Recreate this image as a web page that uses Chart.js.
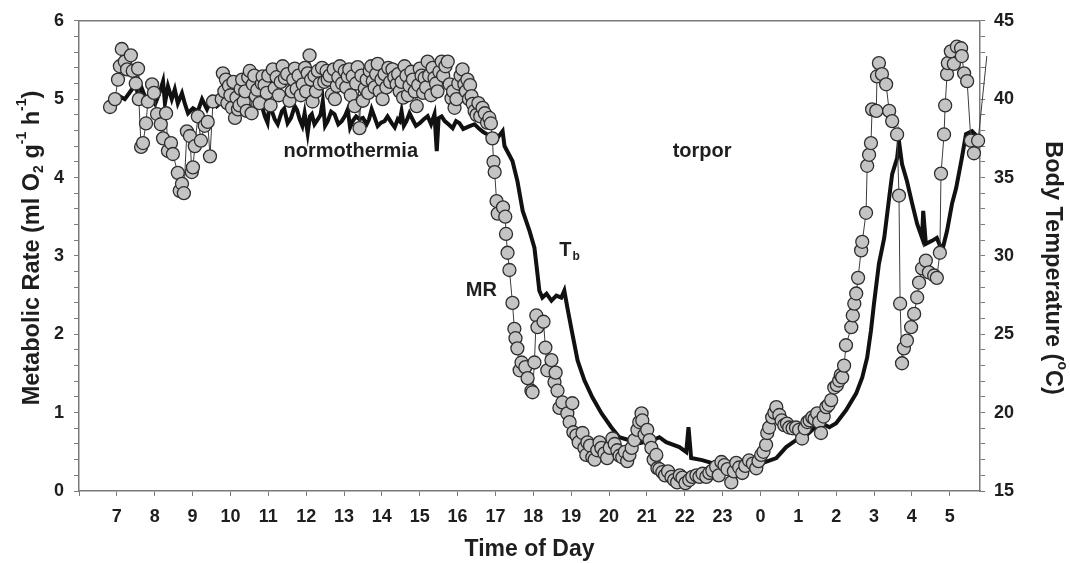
<!DOCTYPE html>
<html lang="en">
<head>
  <meta charset="UTF-8">
  <title>Metabolic rate and body temperature</title>
  <script src="https://cdn.jsdelivr.net/npm/chart.js"></script>
  <style>
    html, body { margin: 0; padding: 0; background: #fff; }
  </style>
</head>
<body>
  <canvas id="mrChart" width="1070" height="563"></canvas>
  <script>
    // time in hours from the first midnight (24 = 0:00 next day)
    // readings are grouped by run of the picture, sorted by time below
    const mrTime = [
      6.82, 6.95, 7.03, 7.08, 7.13, 7.21, 7.27, 7.37, 7.42, 7.50, 7.56, 7.58, 7.64, 7.69, 7.77, 7.82,
      7.93, 7.98, 8.06, 8.16, 8.22, 8.30, 8.35, 8.43, 8.48, 8.61, 8.66, 8.72, 8.77, 8.85, 8.93, 8.98,
      9.01, 9.06, 9.14, 9.22, 9.32, 9.40, 9.46, 9.54, 9.77, 9.80, 9.88, 9.96, 10.04, 10.12, 10.20, 10.27,
      10.35, 10.51, 10.56, 10.59, 10.67, 10.83, 10.85, 10.96, 11.12, 11.17, 11.38, 11.44, 11.62, 11.70,
      11.75, 11.91, 12.04, 12.09, 12.17, 12.31, 12.54, 12.57, 12.68, 12.81, 12.89, 13.02, 13.10, 13.23,
      13.28, 13.36, 13.41, 13.55, 13.68, 13.76, 13.89, 13.94, 14.07, 14.28, 14.39, 14.47, 14.60, 14.73,
      14.87, 14.92, 15.00, 15.13, 15.21, 15.39, 15.47, 15.58, 15.74, 15.79, 15.84, 15.92, 15.97, 16.13,
      16.18, 16.26, 16.37, 16.40, 16.45, 16.66, 16.84, 16.88, 16.92, 16.95, 16.98, 17.03, 17.06, 17.20,
      17.26, 17.28, 17.32, 17.37, 17.45, 17.50, 17.53, 17.58, 17.64, 17.69, 17.79, 17.85, 17.95, 17.98,
      18.03, 18.08, 18.11, 18.27, 18.32, 18.37, 18.48, 18.56, 18.59, 18.64, 18.69, 18.77, 18.90, 18.96,
      19.03, 19.06, 19.14, 19.30, 19.40, 19.43, 19.56, 19.69, 19.75, 19.88, 20.09, 20.22, 20.35, 20.54,
      20.67, 20.75, 20.86, 20.88, 21.01, 21.07, 21.25, 21.28, 21.41, 21.65, 21.80, 21.94, 22.12, 22.31,
      22.39, 22.57, 22.65, 22.83, 22.97, 23.23, 23.36, 23.52, 23.70, 23.89, 24.02, 24.15, 24.18, 24.23,
      24.31, 24.42, 24.50, 24.63, 24.76, 24.94, 25.10, 25.24, 25.37, 25.50, 25.60, 25.74, 25.87, 25.95,
      26.08, 26.16, 26.21, 26.26, 26.40, 26.44, 26.48, 26.53, 26.58, 26.66, 26.69, 26.79, 26.82, 26.87,
      26.92, 26.95, 27.06, 27.08, 27.13, 27.21, 27.32, 27.40, 27.48, 27.61, 27.66, 27.69, 27.74, 27.79,
      27.87, 27.98, 28.06, 28.14, 28.19, 28.27, 28.37, 28.45, 28.59, 28.66, 28.74, 28.77, 28.85, 28.88,
      28.93, 28.95, 29.03, 29.11, 29.19, 29.30, 29.32, 29.38, 29.46, 29.56, 29.64, 29.75, 29.98,
      // denser readings through the normothermic band
      9.84, 9.92, 10.00, 10.08, 10.16, 10.24, 10.31, 10.39, 10.43, 10.47, 10.63, 10.71, 10.77, 10.90,
      11.00, 11.06, 11.22, 11.28, 11.33, 11.50, 11.56, 11.66, 11.80, 11.86, 11.97, 12.00, 12.13, 12.22,
      12.26, 12.36, 12.42, 12.48, 12.62, 12.73, 12.76, 12.85, 12.95, 13.06, 13.14, 13.18, 13.32, 13.46,
      13.50, 13.60, 13.64, 13.72, 13.81, 13.85, 13.99, 14.02, 14.12, 14.17, 14.22, 14.33, 14.43, 14.52,
      14.56, 14.65, 14.69, 14.78, 14.82, 14.96, 15.05, 15.09, 15.17, 15.25, 15.30, 15.34, 15.43, 15.52,
      15.62, 15.68, 15.88, 16.02, 16.08, 16.22, 16.30, 16.33, 16.50, 16.55, 16.60, 16.72, 16.78,
      // denser readings through the torpor bottom and early rewarming
      19.20, 19.35, 19.50, 19.62, 19.80, 19.95, 20.02, 20.15, 20.28, 20.42, 20.48, 20.60, 20.80, 20.94,
      21.12, 21.18, 21.33, 21.48, 21.56, 21.72, 21.87, 22.02, 22.20, 22.47, 22.73, 22.90, 23.05, 23.13,
      23.30, 23.44, 23.60, 23.80, 23.95, 24.08, 24.37, 24.56, 24.70, 24.85, 25.02, 25.17, 25.30, 25.43,
      25.55, 25.67, 25.80, 26.02, 26.12
    ];
    const mrValue = [
      4.90, 5.00, 5.25, 5.42, 5.64, 5.48, 5.38, 5.56, 5.36, 5.20, 5.39, 5.00, 4.39, 4.44, 4.69, 4.97,
      5.19, 5.08, 4.81, 4.68, 4.50, 4.82, 4.34, 4.44, 4.30, 4.06, 3.83, 3.92, 3.80, 4.59, 4.53, 4.07,
      4.13, 4.40, 4.78, 4.47, 4.66, 4.71, 4.27, 4.97, 5.00, 5.33, 5.25, 5.17, 4.89, 4.76, 4.87, 5.13,
      4.97, 5.36, 4.82, 5.19, 5.04, 5.20, 5.29, 5.08, 5.38, 5.14, 5.42, 5.27, 5.10, 5.39,
      5.13, 5.19, 5.33, 5.56, 4.97, 5.36, 5.36, 5.25, 5.06, 5.17, 5.42, 5.36, 5.29, 5.29,
      4.91, 5.41, 4.63, 5.14, 5.36, 5.23, 5.45, 5.10, 5.32, 5.38, 5.19, 5.10, 5.42, 5.17,
      5.10, 4.91, 5.39, 5.27, 5.48, 5.27, 5.10, 5.48, 5.48, 5.19, 5.01, 4.89, 5.00, 5.38,
      5.19, 5.25, 5.04, 4.94, 4.85, 4.89, 4.76, 4.69, 4.50, 4.20, 4.07, 3.70, 3.54, 3.62,
      3.50, 3.28, 3.04, 2.82, 2.40, 2.07, 1.95, 1.82, 1.54, 1.64, 1.58, 1.44, 1.28, 1.26,
      1.64, 2.24, 2.09, 2.16, 1.83, 1.54, 1.67, 1.39, 1.51, 1.28, 1.06, 1.13, 0.99, 0.88,
      1.12, 0.75, 0.71, 0.74, 0.46, 0.62, 0.43, 0.52, 0.62, 0.48, 0.67, 0.52, 0.43, 0.46,
      0.65, 0.78, 0.99, 0.90, 0.78, 0.65, 0.46, 0.29, 0.24, 0.18, 0.11, 0.17, 0.14, 0.20,
      0.18, 0.18, 0.23, 0.31, 0.37, 0.11, 0.36, 0.23, 0.39, 0.29, 0.46, 0.59, 0.74, 0.81,
      0.94, 1.07, 0.97, 0.84, 0.81, 0.81, 0.67, 0.88, 0.94, 0.99, 0.74, 1.07, 1.16, 1.32,
      1.41, 1.45, 1.60, 1.86, 2.09, 2.24, 2.39, 2.52, 2.72, 3.07, 3.18, 3.55, 4.15, 4.29,
      4.44, 4.87, 4.85, 5.29, 5.46, 5.32, 5.19, 4.85, 4.72, 4.55, 3.77, 2.39, 1.63, 1.82,
      1.92, 2.09, 2.26, 2.47, 2.66, 2.84, 2.94, 2.79, 2.75, 2.72, 3.04, 4.05, 4.55, 4.92,
      5.32, 5.46, 5.61, 5.45, 5.67, 5.65, 5.55, 5.33, 5.23, 4.47, 4.31, 4.47, 5.55,
      5.10, 4.95, 5.05, 5.22, 5.02, 4.92, 5.25, 5.10, 4.85, 5.28, 5.30, 5.12, 4.95, 5.18,
      5.30, 4.92, 5.28, 5.05, 5.22, 5.32, 4.98, 5.25, 5.30, 5.05, 5.40, 5.10, 5.25, 5.30,
      5.10, 5.20, 5.40, 5.22, 5.30, 5.38, 5.00, 5.28, 5.20, 5.15, 5.38, 5.05, 5.20, 5.30,
      4.98, 5.25, 5.08, 5.42, 5.15, 5.32, 5.25, 5.00, 5.15, 5.40, 5.22, 5.28, 5.32, 5.22,
      5.02, 5.30, 5.05, 5.35, 5.25, 5.18, 5.30, 5.08, 5.15, 5.30, 5.05, 5.40, 5.20, 5.35,
      5.30, 5.42, 5.10, 5.20, 5.30, 5.10, 5.00, 5.18, 4.80, 4.95, 4.78, 4.82, 4.70,
      0.62, 0.55, 0.58, 0.40, 0.55, 0.42, 0.55, 0.60, 0.45, 0.50, 0.38, 0.55, 0.88, 0.72,
      0.55, 0.40, 0.28, 0.20, 0.25, 0.14, 0.20, 0.10, 0.18, 0.22, 0.26, 0.20, 0.33, 0.28,
      0.25, 0.30, 0.32, 0.35, 0.38, 0.50, 1.00, 0.90, 0.86, 0.80, 0.78, 0.80, 0.90, 0.92,
      0.88, 0.95, 1.10, 1.35, 1.48
    ];

    const tbTime = [
      6.87, 7.03, 7.21, 7.40, 7.48, 7.56, 7.66, 7.79, 7.87, 8.01, 8.14, 8.22, 8.27, 8.35, 8.45, 8.53,
      8.61, 8.72, 8.80, 8.88, 9.01, 9.14, 9.25, 9.38, 9.51, 9.64, 9.80, 9.98, 10.20, 10.46, 10.72, 10.91,
      11.04, 11.17, 11.36, 11.51, 11.70, 11.83, 11.96, 12.04, 12.15, 12.31, 12.44, 12.57, 12.75, 12.94,
      13.10, 13.23, 13.41, 13.60, 13.73, 13.89, 14.07, 14.26, 14.42, 14.52, 14.65, 14.81, 15.00, 15.21,
      15.39, 15.45, 15.50, 15.66, 15.87, 16.05, 16.32, 16.58, 16.77, 17.03, 17.19, 17.24, 17.45, 17.58,
      17.72, 17.90, 18.03, 18.11, 18.16, 18.24, 18.35, 18.48, 18.61, 18.74, 18.82, 18.90, 19.03, 19.17,
      19.35, 19.56, 19.80, 20.06, 20.27, 20.54, 20.80, 21.15, 21.33, 21.51, 21.86, 22.04, 22.10, 22.17,
      22.46, 22.73, 23.10, 23.44, 23.78, 24.05, 24.42, 24.68, 24.94, 25.21, 25.42, 25.63, 25.82, 26.00,
      26.26, 26.53, 26.69, 26.82, 26.92, 27.00, 27.13, 27.27, 27.40, 27.48, 27.61, 27.66, 27.74, 27.87,
      28.01, 28.14, 28.27, 28.30, 28.37, 28.53, 28.66, 28.80, 28.93, 29.06, 29.17, 29.32, 29.43, 29.59,
      29.77,
      // the jagged normothermic stretch in more detail
      10.59, 10.80, 10.98, 11.10, 11.25, 11.42, 11.60, 11.76, 11.90, 12.10, 12.22, 12.38, 12.50, 12.66,
      12.85, 13.02, 13.16, 13.32, 13.50, 13.66, 13.80, 13.98, 14.15, 14.34, 14.47, 14.58, 14.73, 14.90,
      15.10, 15.30, 15.58, 15.76, 15.96, 16.15, 16.45, 16.68
    ];
    const tbValue = [
      40.19, 40.25, 40.00, 40.63, 40.95, 40.31, 40.69, 39.87, 40.19, 39.68, 40.50, 41.14, 39.74, 40.82, 40.00, 40.63,
      39.74, 40.38, 39.68, 39.10, 39.42, 39.23, 40.00, 39.36, 40.06, 39.55, 39.87, 39.74, 39.42, 39.74, 39.55, 38.91,
      39.87, 38.72, 39.23, 38.47, 39.55, 38.72, 39.10, 37.83, 39.04, 38.72, 39.87, 38.60, 39.04, 38.60,
      39.36, 38.60, 38.72, 38.41, 39.36, 38.28, 38.60, 38.47, 38.72, 39.23, 38.60, 38.72, 38.47, 38.91,
      39.04, 36.69, 38.79, 38.60, 38.15, 38.47, 38.28, 38.09, 37.77, 37.45, 37.96, 37.01, 36.05, 34.78,
      32.87, 31.60, 30.52, 28.86, 27.78, 27.34, 27.59, 27.15, 27.47, 27.34, 27.78, 26.70, 25.05, 23.33,
      22.06, 20.98, 19.96, 19.07, 18.43, 18.24, 18.05, 18.24, 18.43, 18.12, 17.80, 17.48, 19.07, 17.10,
      16.97, 16.78, 16.53, 16.46, 16.53, 16.78, 17.10, 17.80, 18.24, 18.56, 19.01, 19.32, 19.07, 19.32,
      20.15, 21.23, 22.25, 23.52, 25.24, 26.96, 29.50, 31.15, 33.70, 35.22, 36.24, 37.32, 35.86, 34.78,
      33.32, 32.04, 31.15, 32.87, 30.77, 30.96, 31.15, 30.33, 31.60, 33.32, 34.33, 36.24, 37.77, 37.96,
      37.51,
      39.10, 39.80, 38.50, 39.20, 38.40, 39.40, 38.80, 39.30, 38.30, 38.90, 38.40, 39.00, 38.30, 39.20,
      38.40, 38.90, 38.20, 38.90, 38.80, 38.70, 38.90, 38.50, 38.90, 38.20, 38.60, 38.30, 39.10, 38.30,
      38.70, 38.40, 38.90, 38.40, 38.60, 38.10, 38.40, 37.90
    ];

    // x tick labels, starting at hour 7
    const firstLabelHour = 7;
    const hourLabels = ['7', '8', '9', '10', '11', '12', '13', '14', '15', '16', '17', '18',
      '19', '20', '21', '22', '23', '0', '1', '2', '3', '4', '5'];

    const fontFamily = "'Liberation Sans', Arial, Helvetica, sans-serif";
    const textColor = '#1e1e1e';
    const axisColor = '#7a7a7a';

    const byTime = (a, b) => a.x - b.x;
    const mrPoints = mrTime.map((t, i) => ({ x: t, y: mrValue[i] })).sort(byTime);
    const tbPoints = tbTime.map((t, i) => ({ x: t, y: tbValue[i] })).sort(byTime);

    // rotated axis titles, the left one with sub/superscripts
    const leftTitle = [
      { t: 'Metabolic Rate (ml O', k: 'n' },
      { t: '2', k: 'sub' },
      { t: ' g', k: 'n' },
      { t: '-1', k: 'sup' },
      { t: ' h', k: 'n' },
      { t: '-1', k: 'sup' },
      { t: ')', k: 'n' }
    ];
    const rightTitle = [
      { t: 'Body Temperature (', k: 'n' },
      { t: 'o', k: 'sup' },
      { t: 'C)', k: 'n' }
    ];

    const labels = [
      { text: 'normothermia', x: 13.18, y: 4.33 },
      { text: 'torpor', x: 22.46, y: 4.33 },
      { text: 'MR', x: 16.63, y: 2.56 },
      { text: 'T', sub: 'b', x: 18.85, y: 3.07 }
    ];

    function drawRich(ctx, parts, cx, cy, angle) {
      const fontFor = k => (k === 'n' ? 'bold 23.5px ' : 'bold 14px ') + fontFamily;
      ctx.save();
      ctx.translate(cx, cy);
      ctx.rotate(angle);
      ctx.textAlign = 'left';
      ctx.textBaseline = 'alphabetic';
      let total = 0;
      parts.forEach(p => { ctx.font = fontFor(p.k); total += ctx.measureText(p.t).width; });
      let x = -total / 2;
      parts.forEach(p => {
        ctx.font = fontFor(p.k);
        const dy = p.k === 'sub' ? 13 : (p.k === 'sup' ? -4 : 8.5);
        ctx.fillText(p.t, x, dy);
        x += ctx.measureText(p.t).width;
      });
      ctx.restore();
    }

    const extras = {
      id: 'extras',
      afterDraw(chart) {
        const ctx = chart.ctx;
        const area = chart.chartArea;
        ctx.save();
        // top frame line
        ctx.strokeStyle = axisColor;
        ctx.lineWidth = 1.5;
        ctx.beginPath();
        ctx.moveTo(area.left, area.top);
        ctx.lineTo(area.right, area.top);
        ctx.stroke();

        // annotations
        ctx.fillStyle = textColor;
        ctx.textBaseline = 'middle';
        labels.forEach(l => {
          const px = chart.scales.x.getPixelForValue(l.x);
          const py = chart.scales.y.getPixelForValue(l.y);
          ctx.font = 'bold 20px ' + fontFamily;
          ctx.textAlign = 'center';
          ctx.fillText(l.text, px, py);
          if (l.sub) {
            const w = ctx.measureText(l.text).width;
            ctx.font = 'bold 12px ' + fontFamily;
            ctx.textAlign = 'left';
            ctx.fillText(l.sub, px + w / 2 + 1, py + 6);
          }
        });

        drawRich(ctx, leftTitle, 30, 248, -Math.PI / 2);
        drawRich(ctx, rightTitle, 1054, 268, Math.PI / 2);
        ctx.restore();
      }
    };

    const tickFont = { family: fontFamily, size: 18, weight: 'bold' };
    const titleFont = { family: fontFamily, size: 23, weight: 'bold' };

    new Chart(document.getElementById('mrChart'), {
      type: 'line',
      data: {
        datasets: [
          {
            label: 'MR',
            data: mrPoints,
            yAxisID: 'y',
            borderColor: '#3c3c3c',
            borderWidth: 1,
            pointRadius: ctx => (ctx.dataIndex === mrPoints.length - 1 ? 0 : 6.5),
            pointBackgroundColor: '#c4c4c4',
            pointBorderColor: '#2e2e2e',
            pointBorderWidth: 1.3,
            tension: 0,
            clip: { left: 8, top: 8, right: 12, bottom: 8 }
          },
          {
            label: 'Tb',
            data: tbPoints,
            yAxisID: 'y2',
            borderColor: '#111',
            borderWidth: 4,
            pointRadius: 0,
            tension: 0
          }
        ]
      },
      options: {
        responsive: false,
        animation: false,
        layout: { padding: { top: 20, left: 0, right: 0, bottom: 0 } },
        plugins: { legend: { display: false }, tooltip: { enabled: false } },
        scales: {
          x: {
            type: 'linear',
            min: 6,
            max: 29.8,
            ticks: {
              stepSize: 1,
              autoSkip: false,
              includeBounds: false,
              maxRotation: 0,
              padding: 10,
              color: textColor,
              font: tickFont,
              callback: v => hourLabels[v - firstLabelHour] ?? ''
            },
            grid: { drawOnChartArea: false, tickLength: 5, color: axisColor },
            border: { color: axisColor, width: 1.5 },
            title: { display: true, text: 'Time of Day', color: textColor, font: titleFont, padding: { top: 0, bottom: 0 } },
            afterFit: s => { s.height = 72; }
          },
          y: {
            position: 'left',
            min: 0,
            max: 6,
            ticks: {
              stepSize: 0.2,
              autoSkip: false,
              padding: 10,
              color: textColor,
              font: tickFont,
              callback: v => (Math.abs(v - Math.round(v)) < 1e-6 ? String(Math.round(v)) : '')
            },
            grid: { drawOnChartArea: false, tickLength: 5, color: axisColor },
            border: { color: axisColor, width: 1.5 },
            afterFit: s => { s.width = 79; }
          },
          y2: {
            position: 'right',
            min: 15,
            max: 45,
            ticks: {
              stepSize: 1,
              autoSkip: false,
              padding: 9,
              color: textColor,
              font: tickFont,
              callback: v => (v % 5 === 0 ? String(v) : '')
            },
            grid: { drawOnChartArea: false, tickLength: 5, color: axisColor },
            border: { color: axisColor, width: 1.5 },
            afterFit: s => { s.width = 90; }
          }
        }
      },
      plugins: [extras]
    });
  </script>
</body>
</html>
